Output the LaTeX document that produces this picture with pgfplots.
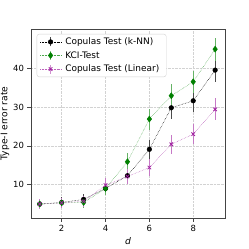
\documentclass[border=0pt]{standalone}
\usepackage{fontspec}
\setmainfont{DejaVu Sans}
\usepackage{pgfplots}
\pgfplotsset{compat=1.18}
\definecolor{mgreen}{HTML}{008000}
\definecolor{mpurple}{HTML}{A020A0}
\definecolor{framegray}{HTML}{444444}
\begin{document}
\begin{tikzpicture}
\path[use as bounding box] (0,0) rectangle (249bp,249bp);
\begin{axis}[
  at={(31bp,31bp)}, anchor=south west,
  scale only axis, width=194bp, height=189bp,
  xmin=0.6, xmax=9.45, ymin=1.4, ymax=50.1,
  xtick={2,4,6,8}, ytick={10,20,30,40},
  tick label style={font=\fontsize{8.5}{10}\selectfont},
  /pgf/number format/assume math mode=true,
  tick align=outside, tick pos=left,
  major tick length=3.5bp,
  axis line style={framegray, line width=0.8pt},
  every tick/.style={framegray, line width=0.6pt},
  grid=major,
  grid style={densely dotted, gray!35, line width=0.6pt},
  xlabel={\textit{d}}, ylabel={Type-I error rate},
  label style={font=\fontsize{9.2}{11}\selectfont},
  xlabel style={yshift=1bp},
  ylabel style={at={(axis description cs:-0.134,0.5)}, anchor=center},
  legend style={font=\fontsize{9}{11}\selectfont, draw=gray!35, rounded corners=2.5pt,
    at={(0.029,0.974)}, anchor=north west, row sep=4pt, inner xsep=3pt, inner ysep=3pt,
    nodes={inner xsep=4pt, inner ysep=0.5pt}},
  legend cell align=left,
  legend image code/.code={%
    \draw[solid, line width=0.6pt, opacity=0.7] (10.5bp,-4.5bp) -- (10.5bp,4.5bp);
    \draw[mark repeat=2,mark phase=2] plot coordinates {(0bp,0bp) (10.5bp,0bp) (21bp,0bp)};},
]
\addplot+[black, densely dotted, line width=0.5pt, mark=*, mark size=2.3pt,
  mark options={solid, fill=black},
  error bars/.cd, y dir=both, y explicit, error bar style={black!70, solid, line width=0.7pt}, error mark=none]
coordinates {
(1,5.0) +- (0,1.3) (2,5.4) +- (0,1.3) (3,6.2) +- (0,1.4) (4,9.0) +- (0,1.7)
(5,12.3) +- (0,2.0) (6,19.1) +- (0,2.4) (7,29.8) +- (0,2.8) (8,31.6) +- (0,2.8) (9,39.5) +- (0,3.0)};
\addlegendentry{Copulas Test (k-NN)}
\addplot+[mgreen!70, densely dotted, line width=0.5pt, mark=diamond*, mark size=3pt,
  mark options={solid, fill=mgreen, draw=mgreen},
  error bars/.cd, y dir=both, y explicit, error bar style={mgreen!60, solid, line width=0.7pt}, error mark=none]
coordinates {
(1,5.0) +- (0,1.3) (2,5.3) +- (0,1.3) (3,5.4) +- (0,1.3) (4,9.0) +- (0,1.7)
(5,15.9) +- (0,2.2) (6,26.9) +- (0,2.7) (7,32.9) +- (0,2.9) (8,36.5) +- (0,2.9) (9,44.9) +- (0,3.0)};
\addlegendentry{KCI-Test}
\addplot+[mpurple!70, densely dotted, line width=0.5pt, mark=x, mark size=2.5pt,
  mark options={solid, draw=mpurple, line width=0.8pt},
  error bars/.cd, y dir=both, y explicit, error bar style={mpurple!60, solid, line width=0.7pt}, error mark=none]
coordinates {
(1,5.0) +- (0,1.3) (2,5.3) +- (0,1.3) (3,5.7) +- (0,1.4) (4,9.85) +- (0,1.8)
(5,12.1) +- (0,2.0) (6,14.4) +- (0,2.2) (7,20.4) +- (0,2.5) (8,23.0) +- (0,2.6) (9,29.4) +- (0,2.8)};
\addlegendentry{Copulas Test (Linear)}
\end{axis}
\end{tikzpicture}
\end{document}
